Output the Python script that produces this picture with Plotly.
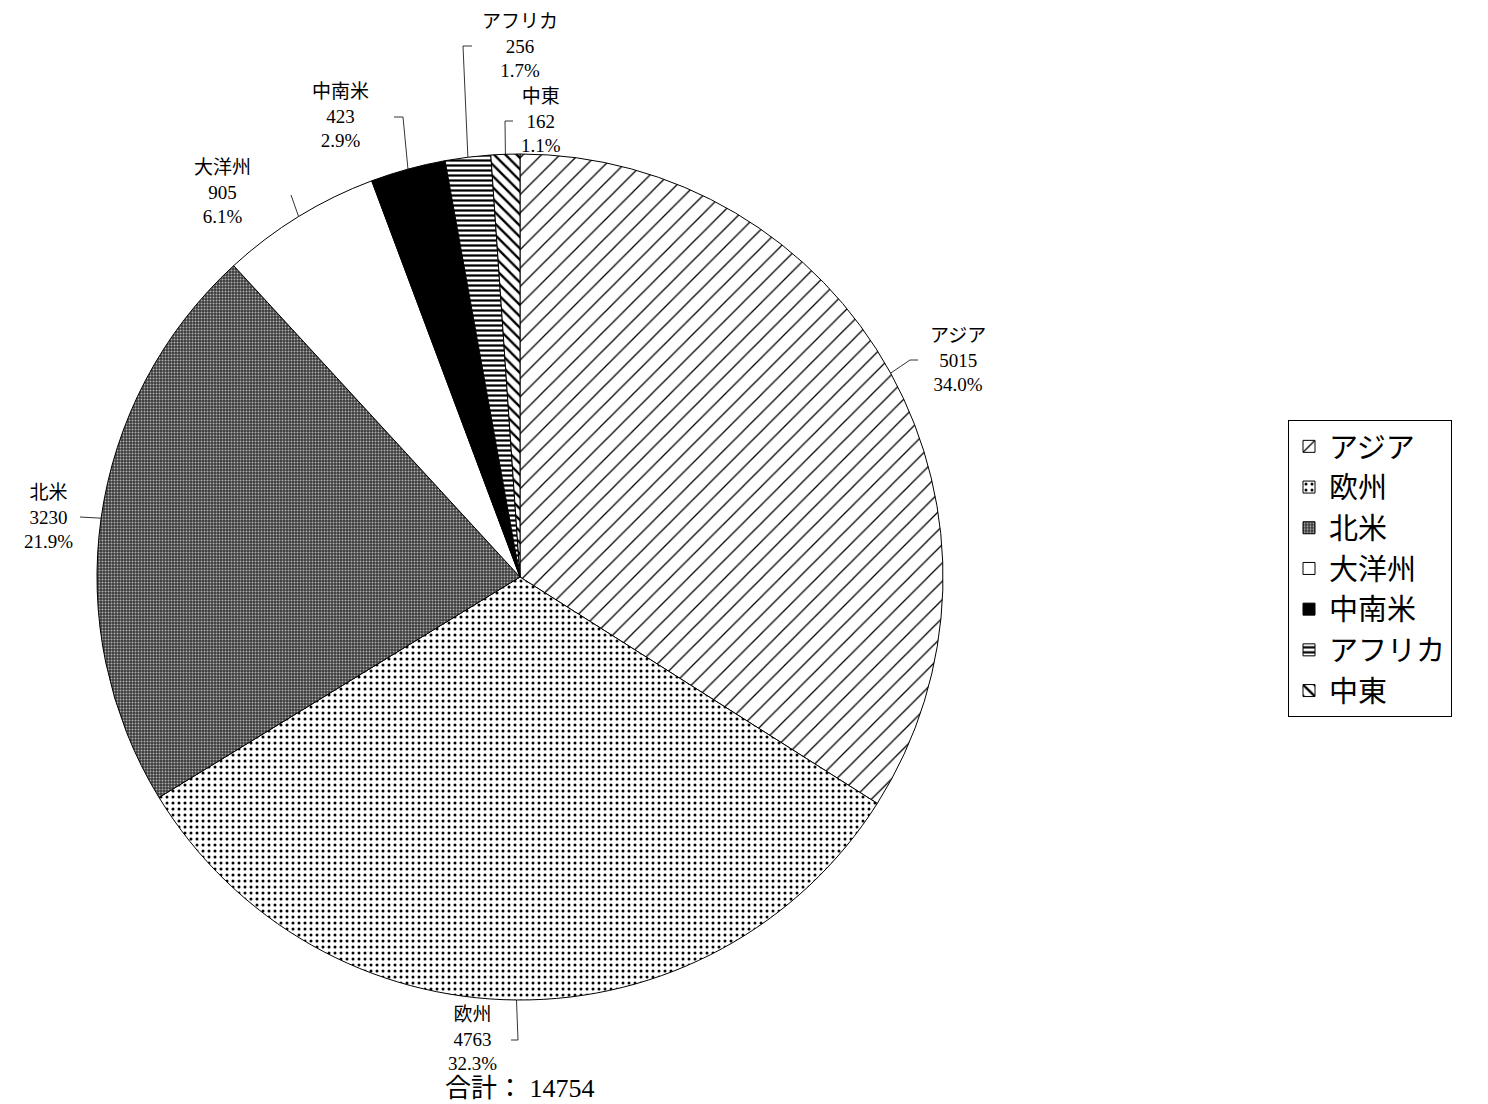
import math
import plotly.graph_objects as go

# ---- data ----
categories = ["アジア", "欧州", "北米", "大洋州", "中南米", "アフリカ", "中東"]
values = [5015, 4763, 3230, 905, 423, 256, 162]
total = sum(values)
percents = [round(v / total * 100, 1) for v in values]

# ---- styles ----
W, H = 1488, 1104
OFF = 8  # page body margin
CX, CY, R = 520, 577, 423
shapes_pat = ["/", ".", ".", "", "", "-", "\\"]
bg_cols = ["white", "white", "#3a3a3a", "white", "black", "white", "white"]
fg_cols = ["black", "black", "#b0b0b0", "black", "black", "black", "black"]
pat_size = [13, 6, 3, 8, 8, 5, 8]
pat_sol = [0.1, 0.2, 0.35, 0.1, 0.1, 0.45, 0.3]

# label layout (pixel positions of label centers and leader bend points)
label_pos = {
    "アジア": (958, 360, [(910, 360), (918, 360)]),
    "欧州": (472, 1039, [(518, 1040), (511, 1040)]),
    "北米": (48, 517, [(80, 517)]),
    "大洋州": (222, 192, [(291, 195)]),
    "中南米": (340, 116, [(403, 117), (394, 117)]),
    "アフリカ": (520, 46, [(463, 46), (472, 46)]),
    "中東": (541, 121, [(505, 121), (513, 121)]),
}

FONT = "Liberation Serif, DejaVu Serif, Noto Sans CJK JP"


def px(x):
    return (x - OFF) / W


def py(y):
    return 1 - (y - OFF) / H


fig = go.Figure(
    go.Pie(
        labels=categories,
        values=values,
        sort=False,
        direction="clockwise",
        rotation=0,
        textinfo="none",
        hoverinfo="label+value+percent",
        marker=dict(
            colors=bg_cols,
            line=dict(color="black", width=1),
            pattern=dict(
                shape=shapes_pat,
                fgcolor=fg_cols,
                bgcolor=bg_cols,
                size=pat_size,
                solidity=pat_sol,
                fillmode="replace",
            ),
        ),
        domain=dict(x=[px(CX - R), px(CX + R)], y=[py(CY + R), py(CY - R)]),
    )
)

annotations = []
shapes = []
cum = 0
for cat, v, p in zip(categories, values, percents):
    mid = (cum + v / 2) / total * 2 * math.pi
    cum += v
    ax = CX + R * math.sin(mid)
    ay = CY - R * math.cos(mid)
    lx, ly, bends = label_pos[cat]
    annotations.append(dict(
        x=px(lx), y=py(ly), xref="paper", yref="paper",
        text=f"{cat}<br>{v}<br>{p:.1f}%", showarrow=False,
        font=dict(family=FONT, size=19, color="black"),
        xanchor="center", yanchor="middle", align="center",
    ))
    pts = [(ax, ay)] + bends
    path = "M " + " L ".join(f"{px(x)},{py(y)}" for x, y in pts)
    shapes.append(dict(type="path", path=path, xref="paper", yref="paper",
                       line=dict(color="black", width=0.8)))

annotations.append(dict(
    x=px(520), y=py(1088), xref="paper", yref="paper",
    text=f"合計： {total}", showarrow=False,
    font=dict(family=FONT, size=26, color="black"),
    xanchor="center", yanchor="middle",
))

fig.update_layout(
    width=W, height=H,
    margin=dict(l=0, r=0, t=0, b=0),
    paper_bgcolor="white", plot_bgcolor="white",
    annotations=annotations,
    shapes=shapes,
    showlegend=True,
    legend=dict(
        x=px(1288), y=py(420), xanchor="left", yanchor="top",
        bordercolor="black", borderwidth=1, bgcolor="white",
        font=dict(family=FONT, size=29, color="black"),
        traceorder="normal",
    ),
)

fig.write_html("out.html")
